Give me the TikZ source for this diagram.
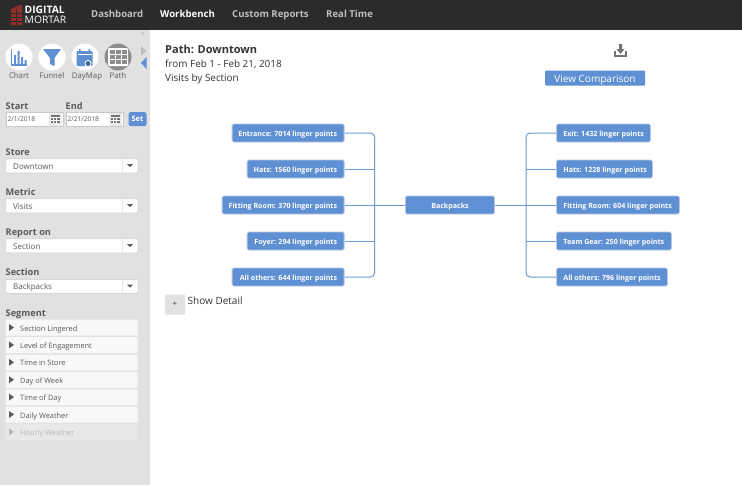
\documentclass[tikz,border=0pt]{standalone}
\usepackage{fontspec}
\setmainfont{Open Sans}
\usetikzlibrary{positioning,calc}
\definecolor{hdr}{HTML}{2B2B2B}
\definecolor{side}{HTML}{E1E1E1}
\definecolor{blu}{HTML}{5F90D3}
\definecolor{bord}{HTML}{B4C8E2}
\definecolor{ln}{HTML}{6D9AD2}
\definecolor{txt}{HTML}{333333}
\definecolor{lab}{HTML}{5A5A5A}
\definecolor{fld}{HTML}{F7F8FA}
\definecolor{brick}{HTML}{8E2F2C}
\newcommand{\rtx}[2]{\makebox[#1][r]{#2}}
\newcommand{\ltx}[2]{\makebox[#1][l]{#2}}
\tikzset{
 x=1pt,y=-1pt,
 flow/.style={fill=blu,draw=bord,line width=.8pt,rounded corners=1.5pt,text=white,font=\fontsize{7.1}{8}\selectfont\bfseries,minimum height=18pt,inner sep=0pt,text height=7.5pt,text depth=1.5pt},
 conn/.style={draw=ln,line width=1pt},
 nav/.style={anchor=west,text=side!85!black,font=\fontsize{9.6}{11}\selectfont\bfseries,inner sep=0pt,text height=8pt,text depth=2pt},
 sidelab/.style={anchor=west,text=lab,font=\fontsize{9.2}{11}\selectfont\bfseries,inner sep=0pt,text height=10pt,text depth=2pt},
 iconlab/.style={anchor=center,text=lab,font=\fontsize{7.8}{9}\selectfont,inner sep=0pt,text height=8pt,text depth=2pt},
 titletxt/.style={anchor=west,text=txt,inner sep=0pt,text height=10pt,text depth=2pt},
 selbox/.style={anchor=north west,fill=white,draw=side!90!black,line width=.5pt,rounded corners=1pt,minimum width=132pt,minimum height=14pt,inner sep=0pt},
 seltxt/.style={anchor=west,text=lab,font=\fontsize{8}{10}\selectfont,inner sep=0pt,text height=9pt,text depth=2pt},
 datebox/.style={anchor=north west,fill=white,draw=side!90!black,line width=.4pt,minimum width=57pt,minimum height=14pt,inner sep=0pt},
 datetxt/.style={anchor=west,text=lab,font=\fontsize{6.6}{8}\selectfont,inner sep=0pt,text height=5pt,text depth=1pt},
 segbox/.style={anchor=north west,fill=fld,draw=none,rounded corners=1pt,minimum width=132pt,minimum height=16pt,inner sep=0pt},
 segtxt/.style={anchor=west,text=lab,font=\fontsize{7.4}{9}\selectfont,inner sep=0pt,text height=9pt,text depth=2pt},
 circ/.style={circle,fill=white,minimum size=27pt,inner sep=0pt},
}
\begin{document}
\begin{tikzpicture}
\useasboundingbox (0,0) rectangle (742,485);
\fill[white] (0,0) rectangle (742,485);
\fill[side] (0,30) rectangle (150,485);
\fill[hdr] (0,0) rectangle (742,30);
% logo
\fill[brick] (11,9) -- (20,5) -- (22,5) -- (22,25) -- (11,25) -- cycle;
\draw[hdr,line width=.4pt] (11,13) -- (22,13) (11,17) -- (22,17) (11,21) -- (22,21) (16,9) -- (16,25);
\node[anchor=west,text=white,font=\fontsize{10.3}{11}\selectfont\bfseries,inner sep=0pt,text height=7.5pt,text depth=0pt] (logoa) at (24.5,9.5) {DIGITAL};
\node[anchor=west,text=white,font=\fontsize{10.3}{11}\selectfont,inner sep=0pt,text height=7.5pt,text depth=0pt] (logob) at (24.5,19.5) {MORTAR};
\node[nav] (n1) at (91,14.5) {Dashboard};
\node[nav,text=white] (n2) at (160,14.5) {Workbench};
\node[nav] (n3) at (232,14.5) {Custom Reports};
\node[nav] (n4) at (326,14.5) {Real Time};
% collapse
\node[anchor=center,text=side!75!black,font=\fontsize{6}{7}\selectfont,inner sep=0pt] (coll) at (143,34) {<<};
% icons
\node[circ] (c1) at (19,57) {};
\node[circ] (c2) at (52,57) {};
\node[circ] (c3) at (85,57) {};
\node[circ,fill=black!45] (c4) at (118,57) {};
\draw[blu,line width=1.2pt] (11.5,49) -- (11.5,65) -- (27,65);
\fill[blu] (14,55) rectangle +(2.2,9) (17.5,51) rectangle +(2.2,13) (21,57) rectangle +(2.2,7) (24.5,60) rectangle +(2.2,4);
\fill[blu] (43,49) -- (61,49) -- (54.5,58) -- (54.5,66) -- (50,64) -- (50,58) -- cycle;
\fill[blu,rounded corners=1pt] (76.5,51) rectangle (92.5,66);
\fill[white] (77.5,54) rectangle (91.5,55);
\fill[blu] (79,49) rectangle +(1.5,3) (88.5,49) rectangle +(1.5,3);
\fill[white] (88,63.5) circle (3.5pt);
\fill[blu!70!black] (88,63.5) circle (2.4pt);
\fill[white,rounded corners=1pt] (108,48) rectangle (128,66);
\foreach \i in {0,1,2}{\foreach \j in {0,1,2}{\fill[black!45] ({109.5+\i*6},{49.5+\j*5.3}) rectangle +(5,4.3);}}
\node[iconlab] (l1) at (19,75.5) {Chart};
\node[iconlab] (l2) at (52,75.5) {Funnel};
\node[iconlab] (l3) at (87,75.5) {DayMap};
\node[iconlab] (l4) at (118,75.5) {Path};
\fill[side!85!black] (141,46) -- (146.5,51) -- (141,56) -- cycle;
\fill[blu] (146.5,57) -- (141,63) -- (146.5,69) -- cycle;
% dates
\node[sidelab] (ds) at (5.5,105) {Start};
\node[sidelab] (de) at (65.5,105) {End};
\node[datebox] (d1) at (5.5,112) {};
\node[datebox] (d2) at (65.5,112) {};
\node[datetxt] (dt1) at (7.5,119) {2/1/2018};
\node[datetxt] (dt2) at (67.5,119) {2/21/2018};
\foreach \x in {50,110}{
 \fill[black!8] (\x-1,112.5) rectangle (\x+12,125.5);
 \fill[black!55] (\x+1,115) rectangle (\x+9.5,123);
 \draw[white,line width=.4pt] (\x+1,117.5) -- (\x+9.5,117.5) (\x+1,120) -- (\x+9.5,120) (\x+3.5,117.5) -- (\x+3.5,123) (\x+6.5,117.5) -- (\x+6.5,123);
}
\node[fill=blu,text=white,rounded corners=1.5pt,font=\fontsize{7.4}{9}\selectfont\bfseries,minimum width=18pt,minimum height=14pt,inner sep=0pt] (setb) at (137.5,119) {Set};
% selects
\foreach \nm/\lab/\val/\y in {st/Store/Downtown/158.5,me/Metric/Visits/198.5,re/Report on/Section/238.5,se/Section/Backpacks/279}{
 \node[selbox] (b\nm) at (5.5,\y) {};
 \node[sidelab] (t\nm) at (5.5,\y-7.5) {\lab};
 \node[seltxt] (v\nm) at (13,\y+7) {\val};
 \draw[side!80!white,line width=.5pt] (122.5,\y+1) -- (122.5,\y+13);
 \fill[lab] (127,\y+5.5) -- (133,\y+5.5) -- (130,\y+8.5) -- cycle;
}
% segments
\node[sidelab] (seg) at (5.5,312) {Segment};
\foreach \nm/\lab/\y in {a/Section Lingered/319.5,b/Level of Engagement/336.9,c/Time in Store/354.3,d/Day of Week/371.7,e/Time of Day/389.1,f/Daily Weather/406.5}{
 \node[segbox] (s\nm) at (5.5,\y) {};
 \node[segtxt] (x\nm) at (20,\y+8) {\lab};
 \fill[lab] (9,\y+4.5) -- (14,\y+8) -- (9,\y+11.5) -- cycle;
}
\node[segbox,fill=black!9] (sg) at (5.5,423.9) {};
\node[segtxt,text=black!28] (xg) at (20,431.9) {Hourly Weather};
\fill[black!28] (9,428.4) -- (14,431.9) -- (9,435.4) -- cycle;
% title
\node[titletxt,font=\fontsize{11}{13}\selectfont\bfseries] (t1) at (165,49.5) {Path: Downtown};
\node[titletxt,font=\fontsize{9.9}{11}\selectfont] (t2) at (165,63.5) {from Feb 1 - Feb 21, 2018};
\node[titletxt,font=\fontsize{9.9}{11}\selectfont] (t3) at (165,77) {Visits by Section};
% download
\draw[black!55,line width=1.1pt] (615,50.5) -- (615,56) -- (626,56) -- (626,50.5);
\fill[black!55] (619,44) rectangle (622,49) (616.5,49) -- (624.5,49) -- (620.5,54) -- cycle;
\node[fill=blu,text=white,rounded corners=1pt,font=\fontsize{10}{11}\selectfont,minimum width=100pt,minimum height=15pt,inner sep=0pt,text height=10pt,text depth=2pt] (vc) at (595,78) {View Comparison};
% flow
\tikzset{lbox/.style={flow,anchor=east,minimum width=#1},rbox/.style={flow,anchor=west,minimum width=#1}}
\node[lbox=112pt] (a1) at (344.5,133) {\rtx{98pt}{Entrance: 7014 linger points}};
\node[lbox=97pt] (a2) at (344.5,169) {\rtx{83pt}{Hats: 1560 linger points}};
\node[lbox=122pt] (a3) at (344.5,205) {\rtx{108pt}{Fitting Room: 370 linger points}};
\node[lbox=97pt] (a4) at (344.5,241) {\rtx{83pt}{Foyer: 294 linger points}};
\node[lbox=112pt] (a5) at (344.5,277) {\rtx{98pt}{All others: 644 linger points}};
\node[flow,minimum width=89pt] (mid) at (450,205) {Backpacks};
\node[rbox=94pt] (r1) at (556,133) {\ltx{80pt}{Exit: 1432 linger points}};
\node[rbox=96pt] (r2) at (556,169) {\ltx{82pt}{Hats: 1228 linger points}};
\node[rbox=123pt] (r3) at (556,205) {\ltx{109pt}{Fitting Room: 604 linger points}};
\node[rbox=115pt] (r4) at (556,241) {\ltx{101pt}{Team Gear: 250 linger points}};
\node[rbox=111pt] (r5) at (556,277) {\ltx{97pt}{All others: 796 linger points}};
\coordinate (lbus) at (374.5,205);
\coordinate (rbus) at (526,205);
\draw[conn,rounded corners=4pt] (a1.east) -| (lbus) |- (a5.east);
\draw[conn] (a2.east) -- (a2.east -| lbus);
\draw[conn] (a3.east) -- (mid.west);
\draw[conn] (a4.east) -- (a4.east -| lbus);
\draw[conn,rounded corners=4pt] (r1.west) -| (rbus) |- (r5.west);
\draw[conn] (r2.west) -- (r2.west -| rbus);
\draw[conn] (mid.east) -- (r3.west);
\draw[conn] (r4.west) -- (r4.west -| rbus);
% show detail
\node[fill=side,rounded corners=1pt,text=txt,font=\fontsize{8}{9}\selectfont,minimum width=20pt,minimum height=20pt,inner sep=0pt] (plus) at (175,304.5) {+};
\node[titletxt,font=\fontsize{10}{11}\selectfont] (sd) at (187.5,300.5) {Show Detail};
\end{tikzpicture}
\end{document}
